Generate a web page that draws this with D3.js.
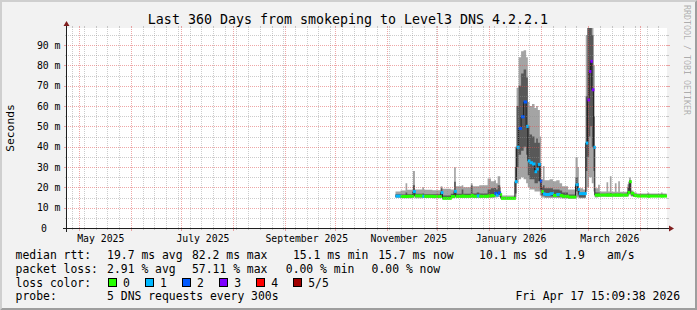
<!DOCTYPE html>
<html>
<head>
<meta charset="utf-8">
<script src="https://cdn.jsdelivr.net/npm/d3@7"></script>
<style>
  html, body { margin: 0; padding: 0; background: #f2f2f2; }
  svg { display: block; font-family: "DejaVu Sans Mono", monospace; }
</style>
</head>
<body>
<svg id="chart" width="697" height="310"></svg>
<script>
// start of each consolidated step, in days since 2026-01-01 (UTC)
const dayOffsets = [-56, -53, -50, -49, -45.6, -44.4, -40, -39, -34, -29, -28, -23, -21, -20, -16.5, -15.5,
  -11, -10, -7.5, -6, -1, 1, 3, 4, 5, 6.5, 7, 15.3, 16.3, 17.5, 19, 20.5, 22, 23, 24, 25.5, 27, 28, 29,
  30.2, 31, 32, 33, 36, 38, 40, 42, 43.5, 47, 51.5, 52.8, 53.5, 56, 57.6, 58.6, 59.6, 60.4, 61.2, 62.2,
  63, 65, 66, 70, 71, 72, 73, 75, 76, 77, 78, 82.5, 83.5, 84.5, 86, 88, 94.5, 95.5, 102.5, 103.5, 105.9];

// ping 1..5 of each step (ms), ping 3 is the median
const pingMin = [14.8, 14.6, 14.6, 14.6, 15.0, 14.6, 14.7, 14.7, 14.6, 15.0, 14.2, 14.6, 15.0, 14.7, 14.7, 14.7,
  14.8, 14.7, 14.7, 14.7, 14.7, 14.8, 15.0, 15.0, 15.2, 14.5, 14.2, 15.0, 22, 24, 25, 24, 22, 20, 19, 19, 18, 18, 18,
  16, 15, 15, 14.8, 14.8, 14.8, 14.8, 14.6, 14.5, 14.4, 15.0, 15.0, 14.6, 14.6, 18, 20, 25, 25, 22, 18,
  15.0, 15.2, 15.4, 15.4, 15.4, 15.4, 15.4, 15.4, 15.4, 15.4, 15.4, 15.6, 16.5, 15.5, 15.3, 15.2, 15.2, 15.2, 15.2, 15.2, 15.2];
const pingLow = [15.3, 15.1, 15.1, 15.1, 16.0, 15.2, 15.2, 15.1, 15.0, 15.6, 14.4, 15.1, 16.5, 15.2, 15.2, 15.2,
  15.5, 15.2, 15.2, 15.2, 15.3, 15.5, 16.0, 15.8, 16.2, 15.0, 14.4, 17.0, 30, 36, 38, 40, 36, 26, 24, 24, 22, 22, 23,
  19, 16, 16, 15.5, 15.5, 15.4, 15.4, 15.2, 15.0, 14.8, 18.0, 16.0, 15.0, 15.0, 28, 35, 45, 50, 40, 28,
  15.6, 15.7, 15.8, 15.8, 15.8, 15.8, 15.8, 15.8, 15.8, 15.8, 15.8, 16.5, 18.5, 16.0, 15.7, 15.5, 15.5, 15.5, 15.5, 15.5, 15.5];
const pingMedian = [15.7, 15.5, 15.5, 15.6, 17.9, 15.8, 15.6, 15.6, 15.5, 17.4, 14.6, 15.5, 18.0, 15.6, 15.7, 15.6,
  16.0, 15.6, 15.8, 15.6, 15.8, 16.0, 17.0, 16.2, 17.2, 16.4, 14.6, 22.8, 39.7, 49, 54.7, 62, 50, 33, 32.1, 31.5, 27.7, 29, 31.3,
  23.1, 17.9, 16.8, 16.5, 16.9, 16.0, 16.5, 16.0, 15.6, 15.2, 21.3, 19.0, 16.9, 16.9, 41.8, 63, 77, 82, 68, 39.7,
  16.2, 16.2, 16.2, 16.2, 16.2, 16.2, 16.2, 16.2, 16.2, 16.2, 16.2, 17.5, 22.8, 17.1, 16.0, 15.7, 15.6, 15.7, 15.7, 15.7, 15.7];
const pingHigh = [16.6, 16.5, 17.5, 16.6, 21.0, 16.8, 17.0, 16.6, 16.6, 19.5, 16.0, 16.8, 22.8, 16.8, 19.0, 16.8,
  21.0, 17.0, 17.5, 17.0, 19.0, 19.5, 19.7, 19.0, 21.0, 18.0, 15.2, 30, 60, 70, 76, 78, 74, 50, 46, 45, 42, 44, 42,
  32, 20, 21, 19.5, 19.5, 19.0, 19.0, 18.5, 17.5, 16.5, 25, 22, 17.5, 17.5, 65, 110, 120, 120, 95, 55,
  17.5, 17.5, 16.8, 17.0, 16.8, 17.2, 16.8, 17.0, 16.8, 17.0, 16.8, 20.0, 23.5, 17.5, 16.8, 16.5, 16.6, 16.5, 16.6, 16.5, 16.5];
const pingMax = [18.0, 18.5, 22.0, 18.8, 28.0, 19.0, 20.0, 18.8, 18.6, 20.5, 19.3, 19.0, 29.9, 20.5, 21.0, 20.0,
  22.0, 20.5, 20.5, 21.0, 24.4, 23.0, 23.5, 22.0, 25.4, 20.0, 16.0, 40, 69, 84, 87, 87.5, 84, 62, 60, 61, 59, 60, 58,
  45, 24, 30.5, 23.5, 24.0, 23.0, 23.5, 22.0, 20.5, 19.0, 34.8, 30, 19.5, 19.0, 95, 130, 140, 140, 120, 80,
  19.5, 21.3, 17.9, 22.5, 17.9, 25.5, 17.8, 22.0, 17.8, 23.0, 17.8, 21.5, 24.9, 18.5, 17.5, 17.0, 17.5, 17.0, 17.5, 17.0, 17.0];
// lost pings (of 5) per step
const lossCount = [1, 0, 0, 0, 1, 0, 1, 0, 0, 1, 0, 0, 1, 0, 0, 0,
  0, 0, 1, 0, 0, 0, 2, 1, 2, 0, 0, 1, 1, 2, 2, 2, 1, 1, 1, 1, 1, 1, 1,
  2, 0, 1, 1, 1, 0, 1, 0, 0, 0, 1, 1, 1, 1, 1, 3, 3, 3, 3, 1,
  0, 0, 0, 0, 0, 0, 0, 0, 0, 0, 0, 0, 0, 0, 0, 0, 0, 0, 0, 0, 0];

const lossColors = ["#26ff00", "#00b8ff", "#0059ff", "#7e00ff", "#ff0000", "#a00000"];
const lossLabels = ["0", "1", "2", "3", "4", "5/5"];

const monthLabelDates = ["2025-05-01", "2025-07-01", "2025-09-01", "2025-11-01", "2026-01-01", "2026-03-01"];
const monthLabels = ["May 2025", "July 2025", "September 2025", "November 2025", "January 2026", "March 2026"];
const yTicks = [0, 10, 20, 30, 40, 50, 60, 70, 80, 90];
const yLabels = ["0", "10 m", "20 m", "30 m", "40 m", "50 m", "60 m", "70 m", "80 m", "90 m"];

const legendRtt = [["median rtt:", 15.6], ["19.7 ms avg", 107.1], ["82.2 ms max", 192], ["15.1 ms min", 292.9],
  ["15.7 ms now", 378.2], ["10.1 ms sd", 479.1], ["1.9", 564.4], ["am/s", 607.1]];
const legendLoss = [["packet loss:", 15.6], ["2.91 % avg", 107.1], ["57.11 % max", 192], ["0.00 % min", 285.8],
  ["0.00 % now", 371.6]];

var W = 697, H = 310;
var plot = {left: 67, right: 667, top: 28, bottom: 228};

var svg = d3.select("#chart");

// background + 3d border
svg.append("rect").attr("width", W).attr("height", H).attr("fill", "#f2f2f2");
svg.append("polygon")
  .attr("points", [[0, H], [2, H - 2], [2, 2], [W - 2, 2], [W, 0], [0, 0]].join(" "))
  .attr("fill", "#cfcfcf");
svg.append("polygon")
  .attr("points", [[2, H - 2], [W - 2, H - 2], [W - 2, 2], [W, 0], [W, H], [0, H]].join(" "))
  .attr("fill", "#9e9e9e");

svg.append("rect")
  .attr("x", plot.left).attr("y", plot.top)
  .attr("width", plot.right - plot.left).attr("height", plot.bottom - plot.top)
  .attr("fill", "#ffffff");

var x = d3.scaleUtc()
  .domain([new Date("2025-04-23T20:00:00Z"), new Date("2026-04-17T03:00:00Z")])
  .range([plot.left, plot.right]);
var y = d3.scaleLinear().domain([0, 98.4]).range([plot.bottom, plot.top]);

var base = Date.UTC(2026, 0, 1);
var data = dayOffsets.map(function (d, i) {
  return {
    date: new Date(base + d * 864e5),
    min: pingMin[i], low: pingLow[i], med: pingMedian[i],
    high: pingHigh[i], max: pingMax[i], loss: lossCount[i]
  };
});

svg.append("defs").append("clipPath").attr("id", "plotclip")
  .append("rect")
  .attr("x", plot.left).attr("y", plot.top)
  .attr("width", plot.right - plot.left).attr("height", plot.bottom - plot.top);

var g = svg.append("g").attr("clip-path", "url(#plotclip)");

// smoke: outer pings light, inner pings dark
var outer = d3.area().curve(d3.curveStepAfter)
  .x(d => x(d.date)).y0(d => y(d.min)).y1(d => y(d.max));
var inner = d3.area().curve(d3.curveStepAfter)
  .x(d => x(d.date)).y0(d => y(d.low)).y1(d => y(d.high));
g.append("path").datum(data).attr("d", outer).attr("fill", "#a4a4a4");
g.append("path").datum(data).attr("d", inner).attr("fill", "#585858");

// median: thin dark line, then loss coloured steps on top
var medLine = d3.line().curve(d3.curveStepAfter).x(d => x(d.date)).y(d => y(d.med));
g.append("path").datum(data).attr("d", medLine)
  .attr("fill", "none").attr("stroke", "#202020").attr("stroke-width", 1);

g.selectAll("rect.med").data(data.slice(0, -1)).join("rect")
  .attr("class", "med")
  .attr("x", d => x(d.date))
  .attr("y", d => y(d.med) - 1.5)
  .attr("width", (d, i) => Math.max(x(data[i + 1].date) - x(d.date) + 1, 2))
  .attr("height", 3)
  .attr("fill", d => lossColors[d.loss]);

// grid (drawn over the data, like rrdtool)
var gridCol = "rgba(143,143,143,0.45)";
var mgridCol = "rgba(222,79,79,0.5)";
var grid = svg.append("g").attr("shape-rendering", "crispEdges");

var months = d3.utcMonth.range(x.domain()[0], x.domain()[1]);
var weeks = d3.utcSunday.range(x.domain()[0], x.domain()[1])
  .filter(d => d.getUTCDate() !== 1);

function vline(t, col, tick) {
  var px = Math.round(x(t)) + 0.5;
  grid.append("line").attr("x1", px).attr("x2", px)
    .attr("y1", plot.bottom).attr("y2", plot.top)
    .attr("stroke", col).attr("stroke-dasharray", "1,1");
  grid.append("line").attr("x1", px).attr("x2", px)
    .attr("y1", plot.bottom).attr("y2", plot.bottom + tick).attr("stroke", col);
  grid.append("line").attr("x1", px).attr("x2", px)
    .attr("y1", plot.top - 2).attr("y2", plot.top).attr("stroke", col);
}
weeks.forEach(d => vline(d, gridCol, 2));
months.forEach(d => vline(d, mgridCol, 3));

function hline(v, col, tick) {
  var py = Math.round(y(v)) + 0.5;
  grid.append("line").attr("x1", plot.left - 1).attr("x2", plot.right + 1)
    .attr("y1", py).attr("y2", py)
    .attr("stroke", col).attr("stroke-dasharray", "1,1");
  grid.append("line").attr("x1", plot.left - tick).attr("x2", plot.left)
    .attr("y1", py).attr("y2", py).attr("stroke", col);
  grid.append("line").attr("x1", plot.right).attr("x2", plot.right + tick)
    .attr("y1", py).attr("y2", py).attr("stroke", col);
}
d3.range(5, 98, 10).forEach(v => hline(v, gridCol, 2));
yTicks.slice(1).forEach(v => hline(v, mgridCol, 3));

// axes with arrows
var axisCol = "#1f1f1f", arrowCol = "#801f1f";
var ax = svg.append("g").attr("shape-rendering", "crispEdges");
ax.append("line").attr("x1", plot.left - 4).attr("x2", plot.right + 4)
  .attr("y1", plot.bottom + 0.5).attr("y2", plot.bottom + 0.5).attr("stroke", axisCol);
ax.append("line").attr("x1", plot.left - 0.5).attr("x2", plot.left - 0.5)
  .attr("y1", plot.bottom + 4).attr("y2", plot.top - 4).attr("stroke", axisCol);
svg.append("polygon")
  .attr("points", [[plot.right + 2, plot.bottom - 2.5], [plot.right + 2, plot.bottom + 3.5], [plot.right + 7, plot.bottom + 0.5]].join(" "))
  .attr("fill", arrowCol);
svg.append("polygon")
  .attr("points", [[plot.left - 3.5, plot.top - 2], [plot.left + 2.5, plot.top - 2], [plot.left - 0.5, plot.top - 7]].join(" "))
  .attr("fill", arrowCol);

// axis labels
svg.append("g").selectAll("text").data(monthLabelDates).join("text")
  .attr("x", d => x(d3.utcDay.offset(new Date(d + "T00:00:00Z"), 13)))
  .attr("y", 241.5)
  .attr("text-anchor", "middle")
  .attr("font-size", "9.8px")
  .attr("fill", "#000")
  .text((d, i) => monthLabels[i]);

svg.append("g").selectAll("text").data(yTicks).join("text")
  .attr("x", d => d === 0 ? 47 : 60.5)
  .attr("y", d => y(d) + 3.6)
  .attr("text-anchor", "end")
  .attr("font-size", "9.8px")
  .attr("fill", "#000")
  .text((d, i) => yLabels[i]);

svg.append("text")
  .attr("transform", "translate(14,128) rotate(-90)")
  .attr("text-anchor", "middle")
  .attr("font-size", "11.3px")
  .attr("fill", "#000")
  .text("Seconds");

svg.append("text")
  .attr("x", 348).attr("y", 24)
  .attr("text-anchor", "middle")
  .attr("font-size", "13.3px")
  .attr("fill", "#000")
  .text("Last 360 Days from smokeping to Level3 DNS 4.2.2.1");

svg.append("text")
  .attr("transform", "translate(684,5) rotate(90)")
  .attr("font-size", "8.3px")
  .attr("fill", "rgba(0,0,0,0.3)")
  .text("RRDTOOL / TOBI OETIKER");

// legend
var leg = svg.append("g").attr("font-size", "11.4px").attr("fill", "#000");
function legendRow(items, yy) {
  items.forEach(function (it) {
    leg.append("text").attr("x", it[1]).attr("y", yy).text(it[0]);
  });
}
legendRow(legendRtt, 258.5);
legendRow(legendLoss, 272.5);
legendRow([["loss color:", 15.6]], 286.5);
lossColors.forEach(function (c, i) {
  var bx = 108 + i * 37.05;
  leg.append("rect").attr("x", bx + 0.5).attr("y", 278.5)
    .attr("width", 8).attr("height", 8)
    .attr("fill", c).attr("stroke", "#000").attr("stroke-width", 1)
    .attr("shape-rendering", "crispEdges");
  leg.append("text").attr("x", bx + 15).attr("y", 286.5).text(lossLabels[i]);
});
legendRow([["probe:", 15.6], ["5 DNS requests every 300s", 107.1]], 300.2);
leg.append("text").attr("x", 680).attr("y", 300.2).attr("text-anchor", "end")
  .text("Fri Apr 17 15:09:38 2026");
</script>
</body>
</html>
